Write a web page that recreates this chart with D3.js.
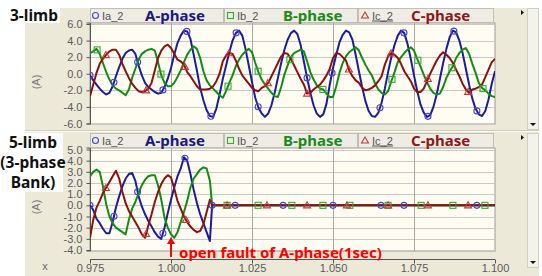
<!DOCTYPE html>
<html><head><meta charset="utf-8">
<script src="https://cdn.jsdelivr.net/npm/d3@7/dist/d3.min.js"></script>
<style>body{margin:0;background:#fff}svg{display:block}</style>
</head><body><svg id="c" width="542" height="276"></svg>
<script>
// ---------- data ----------
const xTickValues = [0.975, 1.000, 1.025, 1.050, 1.075, 1.100];
const topYTicks = [-6, -4, -2, 0, 2, 4, 6];
const botYTicks = [-4, -3, -2, -1, 0, 1, 2, 3, 4, 5];
const seriesNames = ["Ia_2", "Ib_2", "Ic_2"];
const phaseNames = ["A-phase", "B-phase", "C-phase"];
const sampleStart = 0.975, sampleStep = 0.001;

// 3-limb panel, 1 ms samples from 0.975 s to 1.100 s
const topIa = [-0.2,-0.8,-1.3,-1.8,-2.2,-2.5,-2.3,-1.5,-0.3,0.8,
 1.8,2.5,2.8,2.9,2.4,1.0,-0.2,-1.1,-1.6,-1.9,
 -2.2,-2.4,-2.3,-1.6,-0.6,0.7,2.3,3.7,4.6,5.2,
 5.1,4.2,2.3,0.4,-1.7,-3.2,-4.4,-5.1,-5.2,-4.2,
 -2.5,-0.6,1.0,2.6,4.0,4.9,5.2,4.6,3.0,1.0,
 -1.0,-2.9,-4.1,-4.8,-5.2,-4.8,-3.8,-2.3,-0.5,1.3,
 2.9,4.1,4.9,5.2,4.8,3.5,1.5,-0.5,-2.3,-3.8,
 -4.8,-5.2,-4.9,-3.6,-1.3,0.7,2.3,3.8,4.7,5.2,
 5.0,4.1,2.3,0.3,-1.6,-3.3,-4.5,-5.1,-5.2,-4.7,
 -3.5,-1.8,0.2,2.0,3.5,4.6,5.2,4.9,3.6,1.8,
 -0.2,-2.1,-3.7,-4.7,-5.2,-5.0,-4.0,-2.5,-0.6,1.3,
 3.0,4.4,5.2,5.0,4.0,2.5,0.6,-1.3,-3.0,-4.2,
 -4.9,-5.1,-4.5,-3.1,-1.2,0.3];
const topIb = [2.5,2.7,3.0,2.4,1.3,0.2,-0.7,-1.4,-1.8,-2.0,
 -2.3,-2.6,-1.9,-0.5,0.6,1.7,2.4,2.7,2.9,3.0,
 2.8,1.4,-0.2,-1.1,-1.5,-1.5,-1.1,-0.4,0.4,1.4,
 2.3,2.9,3.3,3.0,1.9,0.3,-0.8,-1.4,-1.8,-2.2,
 -2.6,-2.9,-2.1,-1.1,-0.2,0.9,1.7,2.3,2.7,3.0,
 2.6,1.3,0.2,-0.7,-1.3,-1.8,-2.3,-2.7,-2.8,-1.6,
 -0.1,1.0,2.0,2.5,2.7,2.9,2.7,1.5,0.2,-0.7,
 -1.4,-1.8,-1.9,-2.4,-2.8,-2.8,-1.5,0.1,1.3,2.1,
 2.6,2.9,3.2,2.8,1.9,1.1,0.4,-0.2,-1.2,-1.9,
 -2.3,-2.5,-2.1,-0.9,0.2,1.4,2.0,2.5,2.9,3.2,
 2.8,1.8,0.9,-0.1,-1.0,-1.8,-2.3,-2.5,-2.4,-1.6,
 -0.5,0.3,0.9,1.9,2.5,2.9,3.1,2.4,1.2,0.1,
 -1.1,-1.7,-2.0,-2.4,-2.7,-2.8];
const topIc = [-2.7,-1.3,0.1,1.2,1.8,2.3,2.7,2.9,2.9,2.3,
 1.2,0.3,-0.5,-1.2,-1.7,-2.1,-2.2,-2.1,-1.8,-1.1,
 0.4,1.9,2.8,3.3,3.5,3.1,2.4,1.7,1.5,1.1,
 0.2,-0.3,-0.9,-1.5,-1.9,-1.9,-1.9,-1.8,-1.5,-0.9,
 0.0,1.5,2.2,2.5,2.4,1.6,0.6,-0.2,-0.7,-1.2,
 -1.7,-2.0,-2.1,-1.7,-1.5,-1.1,-0.3,0.5,1.3,2.1,
 2.5,2.4,1.8,1.0,0.2,-0.6,-1.3,-2.4,-2.3,-1.9,
 -1.6,-1.3,-0.8,-0.2,0.6,1.9,2.5,2.4,2.0,1.6,
 0.4,-0.3,-0.8,-1.1,-1.7,-2.0,-1.9,-1.7,-1.4,-0.9,
 -0.3,1.1,2.1,2.5,2.3,1.9,1.2,0.3,-0.3,-0.9,
 -1.8,-2.2,-2.2,-1.8,-0.9,0.0,0.8,1.6,2.2,2.6,
 2.3,1.9,1.3,0.5,-0.3,-1.2,-1.9,-2.3,-1.9,-1.8,
 -1.6,-1.3,-0.4,0.5,1.4,1.8];

// 5-limb panel: 1 ms samples 0.975..1.012, then the open phase (zero) to 1.100
const botTailTimes = [1.0127, 1.100];
const botIa = [0.0,-0.4,-1.2,-1.6,-2.1,-2.5,-2.5,-1.5,-0.2,0.8,
 1.7,2.4,2.8,2.9,2.2,0.8,-0.1,-0.8,-1.4,-1.9,
 -2.4,-2.8,-3.0,-2.0,-0.7,0.5,1.6,2.6,3.3,4.3,
 4.0,2.8,1.4,0.2,-0.8,-1.6,-2.4,-3.2, 0.0,0.0];
const botIb = [2.6,3.0,3.2,3.0,1.7,0.1,-1.0,-1.6,-2.0,-2.2,
 -2.4,-2.6,-1.3,-0.3,0.3,1.1,1.8,2.3,2.6,2.7,
 2.7,1.8,0.5,-1.1,-2.0,-2.6,-2.9,-2.4,-1.5,-0.6,
 0.4,1.6,2.4,2.8,3.2,3.4,3.3,2.2, 0.0,0.0];
const botIc = [-2.9,-1.3,-0.2,0.4,1.1,1.6,2.1,2.6,3.1,2.4,
 1.2,0.2,-0.5,-1.0,-1.5,-2.0,-2.6,-2.9,-1.8,-0.8,
 0.3,1.2,1.9,2.4,2.7,2.5,1.5,0.4,-0.3,-1.0,
 -1.5,-1.9,-2.2,-2.4,-2.3,-1.7,-0.6,0.5, 0.0,0.0];

// marker sample times
const topMarkA = [0.9750,0.9824,0.9897,0.9975,1.0049,1.0123,1.0201,1.0269,1.0420,1.0497,1.0645,1.0719,1.0793,1.0873,1.0944];
const topMarkB = [0.9772,0.9969,1.0176,1.0269,1.0367,1.0469,1.0682,1.0762,1.0867,1.0963];
const topMarkC = [0.9799,0.9923,1.0043,1.0179,1.0299,1.0420,1.0549,1.0679,1.0793,1.0917];
const botMarkA = [0.9750,0.9824,0.9897,0.9975,1.0043,1.0127,1.0198,1.0346,1.0500,1.0648,1.0719,1.0944];
const botMarkB = [1.0173,1.0269,1.0373,1.0469,1.0552,1.0670,1.0772,1.0870,1.0969];
const botMarkC = [0.9799,0.9923,1.0046,1.0173,1.0296,1.0420,1.0543,1.0670,1.0793,1.0917];

// ---------- drawing ----------
const svg = d3.select("#c");
const FONT = "'Liberation Sans', Arial, sans-serif";
const BOLD = "'Noto Sans', 'DejaVu Sans', sans-serif";
const lineCol = ["#1c1c9e", "#148c14", "#8c1212"];
const markCol = ["#4646c8", "#36aa36", "#c03a3a"];
const headCol = ["#1a1a80", "#1b8a1b", "#8b1a1a"];

const topTimes = d3.range(topIa.length).map(k => +(sampleStart + k * sampleStep).toFixed(4));
const botTimes = d3.range(botIa.length - botTailTimes.length).map(k => +(sampleStart + k * sampleStep).toFixed(4)).concat(botTailTimes);

const x = d3.scaleLinear().domain([0.975, 1.100]).range([90, 495]);
const yTop = d3.scaleLinear().domain([-6, 6]).range([123.5, 24]);
const yBot = d3.scaleLinear().domain([-4, 5]).range([250, 149.5]);

// backgrounds
svg.append("rect").attr("width", 542).attr("height", 276).attr("fill", "#fff");
svg.append("rect").attr("x", 25).attr("y", 8).attr("width", 514).attr("height", 268).attr("fill", "#ece9d8");
svg.append("line").attr("x1", 25).attr("x2", 539).attr("y1", 130.5).attr("y2", 130.5).attr("stroke", "#cfcbbd");
svg.append("line").attr("x1", 25).attr("x2", 539).attr("y1", 131.5).attr("y2", 131.5).attr("stroke", "#fdfdf8");
// scrollbars
[[8, 130], [133, 268]].forEach(([a, b]) => {
  svg.append("rect").attr("x", 527.5).attr("y", a + 0.5).attr("width", 11).attr("height", b - a - 1)
    .attr("fill", "#f3f2ec").attr("stroke", "#d2cfc2");
  svg.append("path").attr("d", `M530,${b - 7}L536,${b - 7}L533,${b - 4}Z`).attr("fill", "#111");
  svg.append("path").attr("d", `M521,${a + 2}L524,${a + 4.5}L521,${a + 7}Z`).attr("fill", "#111");
});

function panel(cfg) {
  const { y, ticks, top, bottom, hy, data, times, marks } = cfg;
  // plot background
  svg.append("rect").attr("x", 90).attr("y", top).attr("width", 405).attr("height", bottom - top)
    .attr("fill", "#fffcf1").attr("stroke", "#9a9a9a").attr("stroke-width", 1);
  // horizontal grid
  svg.append("g").selectAll("line").data(ticks).join("line")
    .attr("x1", 90).attr("x2", 495)
    .attr("y1", d => Math.round(y(d)) + 0.5).attr("y2", d => Math.round(y(d)) + 0.5)
    .attr("stroke", "#c9c9c9");
  // vertical grid
  svg.append("g").selectAll("line").data(xTickValues.slice(1, -1)).join("line")
    .attr("y1", top).attr("y2", bottom)
    .attr("x1", d => Math.round(x(d)) + 0.5).attr("x2", d => Math.round(x(d)) + 0.5)
    .attr("stroke", "#a8a8a8");
  // y axis
  const ax = svg.append("g").attr("transform", "translate(90.5,0)")
    .call(d3.axisLeft(y).tickValues(ticks).tickSize(4).tickPadding(4).tickFormat(d => d.toFixed(1)));
  ax.select(".domain").attr("stroke", "#555").attr("d", `M-4,${top}H0V${bottom}H-4`);
  ax.selectAll(".tick line").attr("stroke", "#555");
  ax.selectAll("text").attr("font-family", FONT).attr("font-size", 11).attr("fill", "#5a5a5a");

  // clip
  const id = "clip" + top;
  svg.append("clipPath").attr("id", id).append("rect").attr("x", 90).attr("y", top).attr("width", 405).attr("height", bottom - top);
  const g = svg.append("g").attr("clip-path", `url(#${id})`);
  const line = d3.line().x((d, i) => x(times[i])).y(d => y(d));
  data.forEach((s, i) => {
    g.append("path").attr("d", line(s)).attr("fill", "none").attr("stroke", lineCol[i])
      .attr("stroke-width", 2).attr("stroke-linejoin", "round");
  });
  const interp = (vs, t) => {
    const j = d3.bisectLeft(times, t);
    if (j <= 0) return vs[0];
    if (j >= times.length) return vs[vs.length - 1];
    const a = times[j - 1], b = times[j];
    return vs[j - 1] + (vs[j] - vs[j - 1]) * (t - a) / (b - a);
  };
  marks.forEach((ms, i) => {
    ms.forEach(t => {
      const px = x(t), py = y(interp(data[i], t));
      drawMarker(g, i, px, py);
    });
  });

  // header
  const cells = [90, 224, 358, 494];
  const iconX = [95.5, 230.5, 365];
  const nameX = [102, 237, 372];
  const phaseX = [145, 283, 411];
  for (let i = 0; i < 3; i++) {
    svg.append("rect").attr("x", cells[i] + 0.5).attr("y", hy + 0.5).attr("width", cells[i + 1] - cells[i] - 1).attr("height", 14)
      .attr("fill", "#eeece4").attr("stroke", "#c2beb2");
    drawMarker(svg, i, iconX[i], hy + 7.5);
    svg.append("text").attr("x", nameX[i]).attr("y", hy + 11.5).text(seriesNames[i])
      .attr("font-family", FONT).attr("font-size", 11).attr("fill", "#555");
    svg.append("text").attr("x", phaseX[i]).attr("y", hy + 12.5).text(phaseNames[i])
      .attr("font-family", BOLD).attr("font-weight", "bold").attr("font-size", 15).attr("fill", headCol[i]);
  }
  svg.append("line").attr("x1", 372).attr("x2", 393).attr("y1", hy + 13).attr("y2", hy + 13).attr("stroke", "#555");

  // (A) label
  svg.append("text").attr("transform", `translate(40,${cfg.aY}) rotate(-90)`).attr("text-anchor", "middle")
    .text("(A)").attr("font-family", FONT).attr("font-size", 11).attr("fill", "#777");
}

function drawMarker(g, i, px, py) {
  if (i === 0) {
    g.append("circle").attr("cx", px).attr("cy", py).attr("r", 3)
      .attr("fill", "none").attr("stroke", markCol[0]).attr("stroke-width", 1.1);
  } else if (i === 1) {
    g.append("rect").attr("x", px - 3).attr("y", py - 3).attr("width", 6).attr("height", 6)
      .attr("fill", "none").attr("stroke", markCol[1]).attr("stroke-width", 1.1);
  } else {
    g.append("path").attr("d", `M${px},${py - 3.5}L${px + 3.5},${py + 2.5}L${px - 3.5},${py + 2.5}Z`)
      .attr("fill", "none").attr("stroke", markCol[2]).attr("stroke-width", 1.1);
  }
}

panel({ y: yTop, ticks: topYTicks, top: 23, bottom: 124, hy: 8, aY: 82,
  data: [topIa, topIb, topIc], times: topTimes, marks: [topMarkA, topMarkB, topMarkC] });
panel({ y: yBot, ticks: botYTicks, top: 148, bottom: 251, hy: 133, aY: 207,
  data: [botIa, botIb, botIc], times: botTimes, marks: [botMarkA, botMarkB, botMarkC] });

// x axis
const xa = svg.append("g").attr("transform", "translate(0,259.5)")
  .call(d3.axisBottom(x).tickValues(xTickValues).tickSize(4).tickPadding(1).tickFormat(d => d.toFixed(3)));
xa.select(".domain").attr("stroke", "#555").attr("d", "M90,0H495");
xa.selectAll(".tick line").attr("stroke", "#555");
xa.selectAll("text").attr("font-family", FONT).attr("font-size", 11).attr("fill", "#5a5a5a");
svg.append("text").attr("x", 45).attr("y", 270).attr("text-anchor", "middle").text("x")
  .attr("font-family", FONT).attr("font-size", 11).attr("fill", "#666");

// panel titles
svg.append("rect").attr("x", 0).attr("y", 0).attr("width", 60).attr("height", 23).attr("fill", "#fff");
svg.append("text").attr("x", 10).attr("y", 21).text("3-limb")
  .attr("font-family", BOLD).attr("font-weight", "bold").attr("font-size", 15.5).attr("fill", "#111");
svg.append("rect").attr("x", 0).attr("y", 133).attr("width", 63).attr("height", 59).attr("fill", "#fff");
[["5-limb", 148], ["(3-phase", 168], ["Bank)", 188]].forEach(([s, yy]) => {
  svg.append("text").attr("x", 33).attr("y", yy).attr("text-anchor", "middle").text(s)
    .attr("font-family", BOLD).attr("font-weight", "bold").attr("font-size", 15.5).attr("fill", "#111");
});

// annotation
svg.append("line").attr("x1", 171).attr("x2", 171).attr("y1", 257).attr("y2", 242)
  .attr("stroke", "#ff0000").attr("stroke-width", 2);
svg.append("path").attr("d", "M171,237L175,244L167,244Z").attr("fill", "#ff0000");
svg.append("text").attr("x", 179).attr("y", 258).text("open fault of A-phase(1sec)")
  .attr("font-family", BOLD).attr("font-weight", "bold").attr("font-size", 15).attr("fill", "#ff0000");
</script></body></html>
